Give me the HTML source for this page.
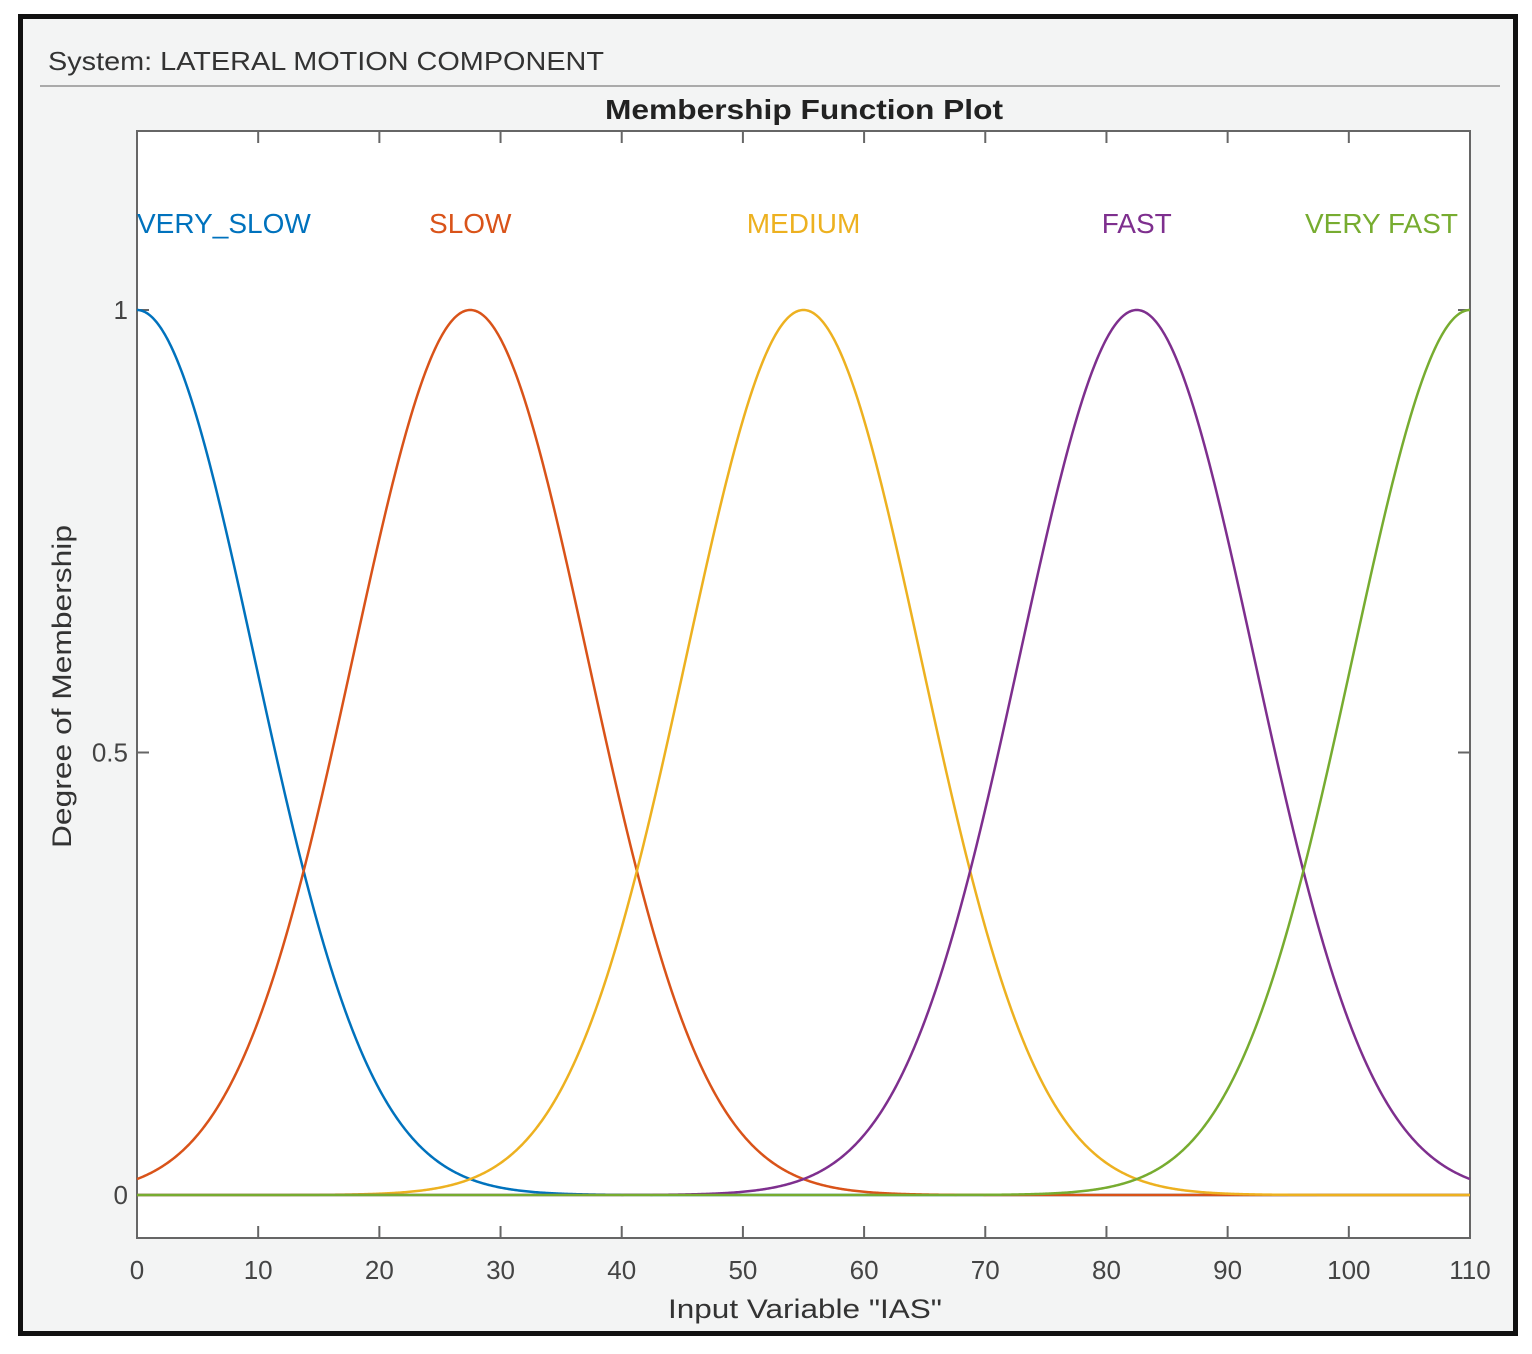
<!DOCTYPE html>
<html><head><meta charset="utf-8"><style>
html,body{margin:0;padding:0;background:#fff;}
svg{display:block;font-family:"Liberation Sans",Arial,sans-serif;}
</style></head><body>
<svg id="chart" width="1532" height="1354" viewBox="0 0 1532 1354">
<rect x="0" y="0" width="1532" height="1354" fill="#ffffff"/>
<rect x="20.5" y="16.5" width="1495" height="1317" fill="#f3f4f4" stroke="#111" stroke-width="5"/>
<text x="48" y="70" font-size="26" fill="#333" textLength="556" lengthAdjust="spacingAndGlyphs">System: LATERAL MOTION COMPONENT</text>
<line x1="40" y1="86" x2="1500" y2="86" stroke="#aaa" stroke-width="2"/>
<text x="605" y="119" font-size="28" font-weight="bold" fill="#222" textLength="398" lengthAdjust="spacingAndGlyphs">Membership Function Plot</text>
<rect x="137" y="131" width="1333" height="1107" fill="#fff" stroke="#666" stroke-width="2"/>
<g id="ticks"></g>
<g id="curves"></g>
<g id="labels"></g>
<text x="668" y="1318" font-size="27" fill="#333" textLength="274" lengthAdjust="spacingAndGlyphs">Input Variable "IAS"</text>
<text transform="translate(71,848) rotate(-90)" font-size="27" fill="#333" textLength="323" lengthAdjust="spacingAndGlyphs">Degree of Membership</text>
</svg>
<script>
const mfNames=["VERY_SLOW","SLOW","MEDIUM","FAST","VERY FAST"];
const mfCenters=[0,27.5,55,82.5,110];
const mfSigmas=[9.7,9.7,9.7,9.7,9.7];
const mfColors=["#0072BD","#D95319","#EDB120","#7E2F8E","#77AC30"];
const xTicks=[0,10,20,30,40,50,60,70,80,90,100,110];
const yTicks=[0,0.5,1];
const X0=137,X1=1470,Y0=1195,Y1=310;
const xs=v=>X0+(v-0)/(110-0)*(X1-X0);
const ys=v=>Y0+(v-0)/(1-0)*(Y1-Y0);
const NS="http://www.w3.org/2000/svg";
const tg=document.getElementById('ticks'),cg=document.getElementById('curves'),lg=document.getElementById('labels');
function mk(t,a,p){const e=document.createElementNS(NS,t);for(const k in a)e.setAttribute(k,a[k]);p.appendChild(e);return e;}
xTicks.forEach(v=>{
  const x=xs(v);
  const t1=mk('line',{x1:x,y1:1238,x2:x,y2:1226,stroke:'#666','stroke-width':2},tg);
  
  
  const t2=mk('line',{x1:x,y1:131,x2:x,y2:143,stroke:'#666','stroke-width':2},tg);
  
  
  const l=mk('text',{x:x,y:1279,'font-size':26,'text-anchor':'middle',fill:'#444'},tg);
  l.textContent=v;
  
  
});
yTicks.forEach(v=>{
  const y=ys(v);
  const t1=mk('line',{x1:137,y1:y,x2:149,y2:y,stroke:'#666','stroke-width':2},tg);
  
  
  const t2=mk('line',{x1:1470,y1:y,x2:1458,y2:y,stroke:'#666','stroke-width':2},tg);
  
  
  const l=mk('text',{x:128,y:y+9,'font-size':26,'text-anchor':'end',fill:'#444'},tg);
  l.textContent=v;
  
  
});
mfNames.forEach((n,i)=>{
  let d='';
  for(let k=0;k<=1100;k++){const v=k/10;const m=Math.exp(-Math.pow(v-mfCenters[i],2)/(2*mfSigmas[i]*mfSigmas[i]));d+=(k?'L':'M')+xs(v).toFixed(2)+','+ys(m).toFixed(2);}
  const p=mk('path',{d:d,fill:'none',stroke:mfColors[i],'stroke-width':2.5},cg);
  
  
  let lx=xs(mfCenters[i]),anchor='middle';
  if(i===0){lx=xs(mfCenters[i]);anchor='start';}
  if(i===mfNames.length-1){lx=xs(mfCenters[i])-12;anchor='end';}
  const t=mk('text',{x:lx,y:233,'font-size':28,'text-anchor':anchor,fill:mfColors[i]},lg);
  t.textContent=n;
  
  
});
</script>
</body></html>
